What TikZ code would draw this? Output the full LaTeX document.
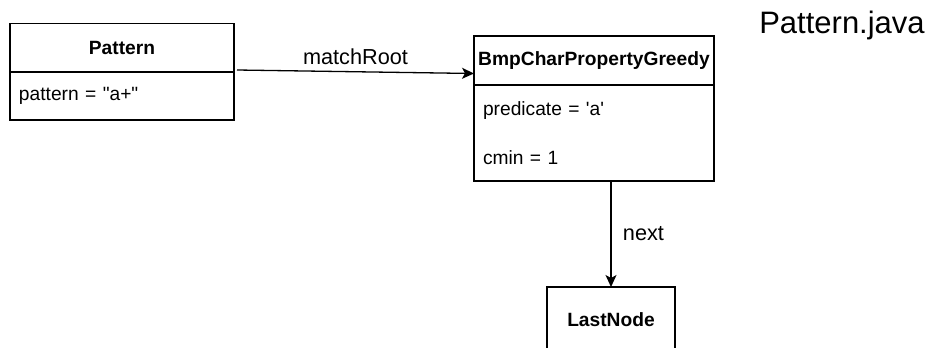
\documentclass[tikz,border=0pt]{standalone}
\usepackage{fontspec}
\setmainfont{Liberation Sans}
\usetikzlibrary{arrows.meta, positioning}
\tikzset{
  hdr/.style  = {draw=black, line width=1.3pt, outer sep=0pt, inner sep=0pt,
                 font=\fontsize{19.2}{23}\selectfont\bfseries, fill=white},
  fld/.style  = {draw=black, line width=1.3pt, outer sep=0pt, inner xsep=9pt,
                 inner ysep=0pt, align=left, fill=white,
                 font=\fontsize{19.2}{23}\selectfont},
  sig/.style  = {-{Stealth[length=12pt, width=11pt, inset=3pt]}, line width=1.3pt},
  lab/.style  = {font=\fontsize{21.7}{26}\selectfont},
  title/.style= {font=\fontsize{31}{36}\selectfont},
}

\begin{document}
\begin{tikzpicture}[x=1pt, y=-1pt]
  \useasboundingbox (0,0) rectangle (929,348);

  % class Pattern
  \node[hdr, minimum width=224pt, minimum height=48.5pt] (pat) at (122,47.75) {Pattern};
  \node[fld, text width=206pt, minimum height=48pt, below=0pt of pat] (patf)
    {pattern = \textquotedbl a+\textquotedbl\\[4pt]};

  % class BmpCharPropertyGreedy
  \node[hdr, minimum width=240pt, minimum height=49pt] (bmp) at (594,60.5) {BmpCharPropertyGreedy};
  \node[fld, text width=222pt, minimum height=96pt, below=0pt of bmp] (bmpf)
    {predicate = \textquotesingle a\textquotesingle\\[26pt]cmin = 1};

  % class LastNode
  \node[hdr, minimum width=128pt, minimum height=65pt] (last) at (611,319.5) {LastNode};

  \node[title] (file) at (842,25) {Pattern.java};

  \draw[sig] ([xshift=3pt, yshift=2pt]pat.south east) -- ([yshift=-13pt]bmp.west)
    node[lab, midway, above=3pt] (lroot) {matchRoot};
  \draw[sig] (last.north |- bmpf.south) -- (last.north)
    node[lab, midway, right=8pt] (lnext) {next};
\end{tikzpicture}
\end{document}
